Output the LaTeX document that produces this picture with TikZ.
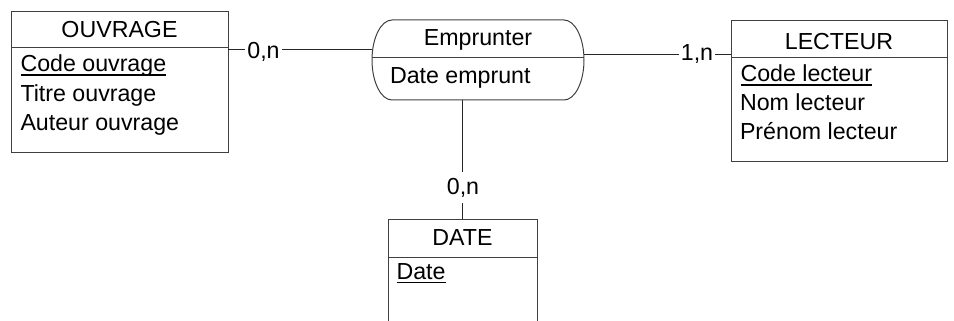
\documentclass[tikz,border=0pt]{standalone}
\usepackage{fontspec}
\setmainfont{Liberation Sans}
\begin{document}
\begin{tikzpicture}[x=1pt,y=-1pt,
  box/.style={draw=black!75, line width=1pt, inner sep=0pt, outer sep=0pt},
  txt/.style={inner sep=0pt, outer sep=0pt, font=\fontsize{23.2}{27}\selectfont},
  card/.style={txt, fill=white, inner xsep=2pt, inner ysep=3pt},
  conn/.style={draw=black!85, line width=1pt},
  ul/.style={line width=1.7pt, black}]
\useasboundingbox (0,0) rectangle (954,321);
\begin{scope}
\clip (0,0) rectangle (954,321);
% entity boxes
\node[box, minimum width=217pt, minimum height=140pt] (ouv) at (119.5,82) {};
\node[box, minimum width=216pt, minimum height=140pt] (lec) at (839,91) {};
\node[box, minimum width=149pt, minimum height=140pt] (dat) at (462.5,289) {};
\node[inner sep=0pt, outer sep=0pt, minimum width=212pt, minimum height=80pt] (emp) at (478,60) {};
% association shape
\draw[draw=black!75, line width=1pt]
  (392,20) -- (564,20) .. controls (575,20) and (584,37.9) .. (584,60)
  .. controls (584,82.1) and (575,100) .. (564,100) -- (392,100)
  .. controls (381,100) and (372,82.1) .. (372,60)
  .. controls (372,37.9) and (381,20) .. (392,20) -- cycle;
% dividers
\draw[draw=black!75, line width=1pt] (ouv.west |- 0,47.7) -- (ouv.east |- 0,47.7);
\draw[draw=black!75, line width=1pt] (lec.west |- 0,57.3) -- (lec.east |- 0,57.3);
\draw[draw=black!75, line width=1pt] (dat.west |- 0,257) -- (dat.east |- 0,257);
\draw[draw=black!75, line width=1pt] (emp.west |- 0,58) -- (emp.east |- 0,58);
% connectors
\draw[conn] (ouv.east |- 0,49.3) -- (emp.west |- 0,49.3);
\draw[conn] (emp.east |- 0,55) -- (lec.west |- 0,55);
\draw[conn] (dat.north |- emp.south) -- (dat.north);
% cardinalities
\node[card, anchor=base] (c1) at (263.5,58.3) {0,n};
\node[card, anchor=base] (c2) at (697,60.7) {1,n};
\node[card, anchor=base, inner ysep=6pt] (c3) at (463,194) {0,n};
% texts
\node[txt, anchor=base] (tOuv) at (119.5,37.3) {OUVRAGE};
\node[txt, anchor=base west] (a1) at (20.5,71.7) {Code ouvrage};
\node[txt, anchor=base west] (a2) at (20.5,101.7) {Titre ouvrage};
\node[txt, anchor=base west] (a3) at (20.5,131) {Auteur ouvrage};
\node[txt, anchor=base] (tEmp) at (478,46) {Emprunter};
\node[txt, anchor=base west] (e1) at (390,84) {Date emprunt};
\node[txt, anchor=base] (tLec) at (839,49.3) {LECTEUR};
\node[txt, anchor=base west] (l1) at (740.5,81.7) {Code lecteur};
\node[txt, anchor=base west] (l2) at (740,110.7) {Nom lecteur};
\node[txt, anchor=base west] (l3) at (740,139.3) {Prénom lecteur};
\node[txt, anchor=base] (tDat) at (462.5,245) {DATE};
\node[txt, anchor=base west] (d1) at (396.5,279.3) {Date};
% underlines of identifiers
\draw[ul] ([yshift=-3.3pt]a1.base west) -- ([yshift=-3.3pt]a1.base east);
\draw[ul] ([yshift=-3.3pt]l1.base west) -- ([yshift=-3.3pt]l1.base east);
\draw[ul] ([yshift=-3.3pt]d1.base west) -- ([yshift=-3.3pt]d1.base east);
\end{scope}
\end{tikzpicture}
\end{document}
